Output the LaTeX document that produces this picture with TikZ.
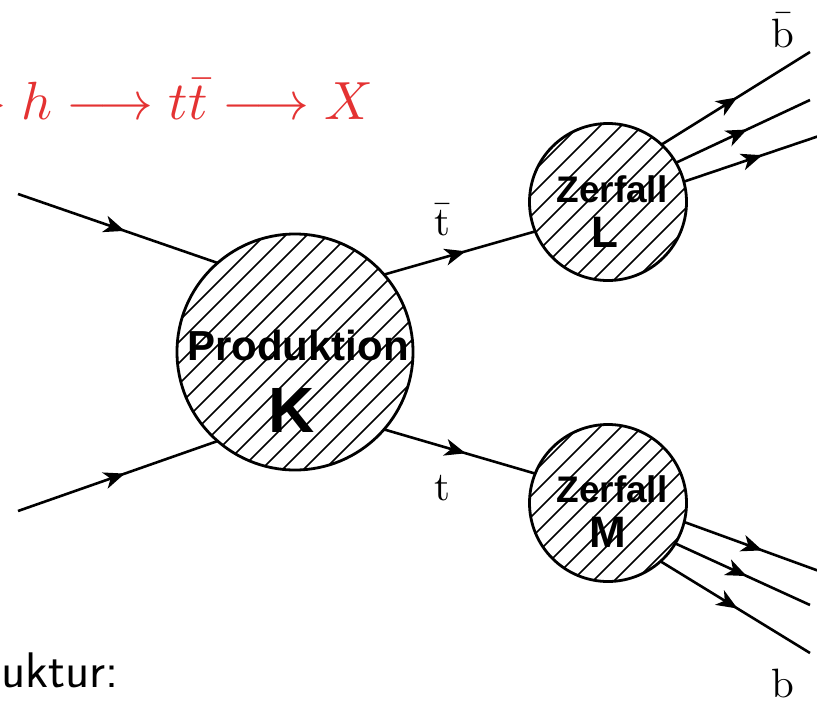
\documentclass[tikz,border=0pt]{standalone}
\usepackage{fontspec}
\newfontfamily\lsans{Liberation Sans}
\usetikzlibrary{arrows.meta,decorations.markings}
\definecolor{hred}{RGB}{228,50,50}
\tikzset{
  blob/.style={circle, draw, line width=2.8pt, outer sep=0pt, inner sep=0pt,
    path picture={
      \foreach \k in {-14,...,14}
        \draw[line width=1.6pt] ([shift={(\k*21pt-250pt,-250pt)}]path picture bounding box.center) -- ++(500pt,500pt);
    }},
  fermion/.style={line width=2.6pt, postaction={decorate},
    decoration={markings, mark=at position #1 with {\arrow{Stealth[length=21pt,width=17pt,inset=6pt]}}}},
  blobtxt/.style={anchor=base, inner sep=0pt, font=\lsans\bfseries\fontsize{#1}{#1}\selectfont},
  parttxt/.style={anchor=base, inner sep=0pt, font=\fontsize{10}{12}\selectfont},
}
\begin{document}
\begin{tikzpicture}[x=1pt,y=-1pt]
\useasboundingbox (0,0) rectangle (817,704);

% blobs
\node[blob, minimum size=236pt] (K) at (295,352) {};
\node[blob, minimum size=157pt] (L) at (608,202) {};
\node[blob, minimum size=157pt] (M) at (608,503) {};

% blob texts
\node[blobtxt=42] (Ka) at (298,360) {Produktion};
\node[blobtxt=64] (Kb) at (292,432) {K};
\node[blobtxt=37] (La) at (612,202) {Zerfall};
\node[blobtxt=44] (Lb) at (605,247) {L};
\node[blobtxt=37] (Ma) at (612,502) {Zerfall};
\node[blobtxt=44] (Mb) at (608,547) {M};

% free ends
\coordinate (a1) at (18,194);
\coordinate (a2) at (18,511);
\coordinate (l1) at (810,52);
\coordinate (l2) at (810,100);
\coordinate (l3) at (819,136);
\coordinate (m1) at (819,571);
\coordinate (m2) at (810,605);
\coordinate (m3) at (810,653);

% connectors
\draw[fermion=0.535] (a1) -- (K.131);
\draw[fermion=0.535] (a2) -- (K.-131);
\draw[fermion=0.54] (K.41) -- (L.202);
\draw[fermion=0.54] (K.-41) -- (M.158);
\draw[fermion=0.51] (L.47.5) -- (l1);
\draw[fermion=0.53] (L.30) -- (l2);
\draw[fermion=0.58] (L.15) -- (l3);
\draw[fermion=0.58] (M.-14.4) -- (m1);
\draw[fermion=0.53] (M.-31) -- (m2);
\draw[fermion=0.515] (M.-48) -- (m3);

% particle labels
\node[parttxt] (tb) at (442,235) {\scalebox{4.1}{$\bar{\mathrm{t}}$}};
\node[parttxt] (t) at (442,500) {\scalebox{4.1}{t}};
\node[parttxt] (bb) at (783,47) {\scalebox{4.1}{$\bar{\mathrm{b}}$}};
\node[parttxt] (b) at (783,697) {\scalebox{4.1}{b}};

% texts
\node[anchor=base east, inner sep=0pt, text=hred, font=\fontsize{10}{12}\selectfont] (title) at (373,119) {\scalebox{5.38}{$\to h \longrightarrow t\bar{t} \longrightarrow X$}};
\node[anchor=base east, inner sep=0pt, font=\sffamily\fontsize{50}{60}\selectfont] (st) at (119,687) {uktur:};
\end{tikzpicture}
\end{document}
